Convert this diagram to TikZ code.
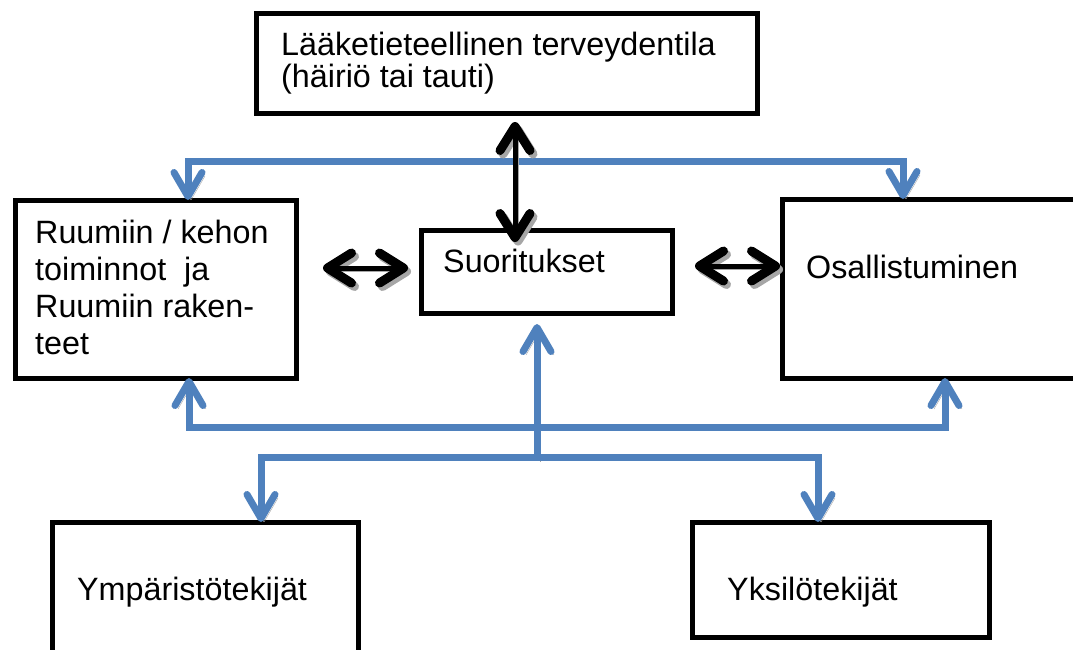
\documentclass[tikz,border=0pt]{standalone}
\usepackage{fontspec}
\setmainfont{Liberation Sans}
\usetikzlibrary{arrows.meta}
\definecolor{icfblue}{HTML}{4F81BD}
\definecolor{icfshade}{HTML}{A6A6A6}
\tikzset{
  blutip/.tip={Straight Barb[length=24pt, width=28pt, round]},
  blktip/.tip={Straight Barb[length=24pt, width=30pt, line width=9pt, round]},
  box/.style={draw, line width=5pt, inner sep=0pt, outer sep=0pt},
  txt/.style={inner sep=0pt, align=left, font=\fontsize{32.3}{37}\selectfont},
  shd/.style={preaction={draw=icfshade, transform canvas={shift={(3pt,-3.5pt)}}}},
  link/.style={shd, draw=icfblue, line width=7pt, line join=miter, blutip-blutip},
  rise/.style={shd, draw=icfblue, line width=7pt, -blutip},
  both/.style={shd, draw=black, line width=5pt, blktip-blktip},
}
\begin{document}
\begin{tikzpicture}[x=1pt, y=-1pt]
  \useasboundingbox (0,0) rectangle (1073,649);
  \clip (0,0) rectangle (1073,649);
  % boxes
  \node[box, minimum width=501pt, minimum height=100pt] (tila) at (506.5,63) {};
  \node[box, minimum width=281pt, minimum height=178pt] (keho) at (155.5,289) {};
  \node[box, minimum width=251pt, minimum height=83pt] (suor) at (546.5,271.5) {};
  \node[box, minimum width=318pt, minimum height=179pt] (osal) at (941,288.5) {};
  \node[box, minimum width=306pt, minimum height=178pt] (ymp) at (205,611) {};
  \node[box, minimum width=297pt, minimum height=115pt] (yks) at (840.5,579.5) {};
  % texts
  \node[txt, anchor=north west, font=\fontsize{32.3}{32}\selectfont] (tila-t) at (281,32) {Lääketieteellinen terveydentila\\(häiriö tai tauti)};
  \node[txt, anchor=north west] (keho-t) at (35,220) {Ruumiin / kehon\\toiminnot\ \ ja\\Ruumiin raken-\\teet};
  \node[txt, anchor=base west] (suor-t) at (443,272) {Suoritukset};
  \node[txt, anchor=base west] (osal-t) at (806,278) {Osallistuminen};
  \node[txt, anchor=base west] (ymp-t) at (77,600) {Ympäristötekijät};
  \node[txt, anchor=base west] (yks-t) at (727,600) {Yksilötekijät};
  % blue connectors
  \coordinate (hub) at (537,458);
  \draw[link] (188,0 |- keho.north) -- (188,161) -- (903,161) -- (903,0 |- osal.north);
  \draw[link] (189,0 |- keho.south) -- (189,427) -- (945,427) -- (945,0 |- osal.south);
  \draw[rise, shorten >=11pt] (hub) -- (hub |- suor.south);
  \draw[link] (261,0 |- ymp.north) -- (261,457) -- (818,457) -- (818,0 |- yks.north);
  % black connectors
  \draw[both, shorten <=9pt, shorten >=-12pt] (515,0 |- tila.south) -- (515,0 |- suor.north);
  \draw[both, shorten <=27pt, shorten >=13pt] (keho.east |- 0,268) -- (suor.west |- 0,268);
  \draw[both, shorten <=23pt, shorten >=2pt] (suor.east |- 0,266) -- (osal.west |- 0,266);
\end{tikzpicture}
\end{document}
